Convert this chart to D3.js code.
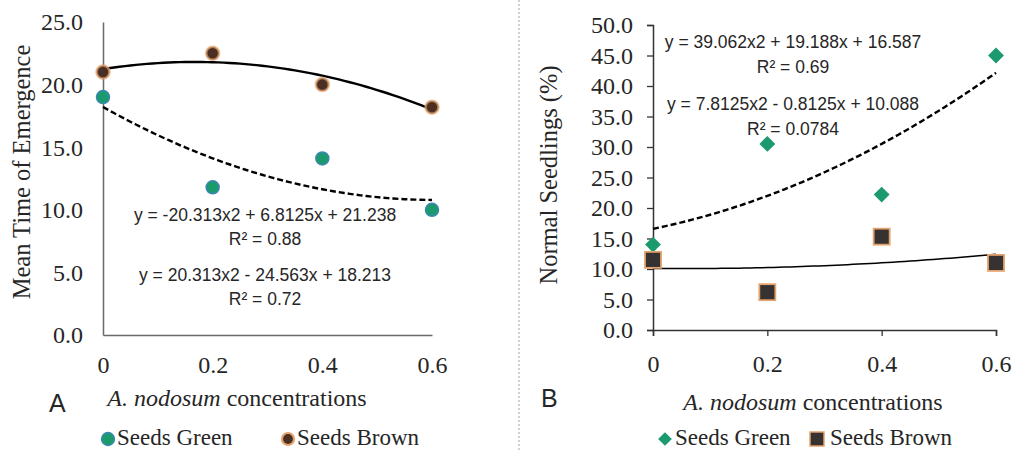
<!DOCTYPE html>
<html>
<head>
<meta charset="utf-8">
<script src="https://cdn.jsdelivr.net/npm/d3@7"></script>
<style>
  body { margin: 0; background: #fff; }
  svg { display: block; }
</style>
</head>
<body>
<svg id="chart" width="1012" height="450"></svg>
<script>
// concentrations
const conc = [0, 0.2, 0.4, 0.6];

// panel A: mean time of emergence
const mteGreen = [19.0, 11.8, 14.1, 10.0];
const mteBrown = [21.0, 22.5, 20.0, 18.2];
// panel B: normal seedlings (%)
const nsGreen = [14.0, 30.5, 22.2, 45.0];
const nsBrown = [11.5, 6.2, 15.3, 11.0];

// trendline coefficients [a, b, c] for a*x^2 + b*x + c
const trendA = { brown: [-20.313, 6.8125, 21.238], green: [20.313, -24.563, 18.213] };
const trendB = { green: [39.062, 19.188, 16.587], brown: [7.8125, -0.8125, 10.088] };

const eqLabelsA = ['y = -20.313x2 + 6.8125x + 21.238', 'R² = 0.88',
                   'y = 20.313x2 - 24.563x + 18.213', 'R² = 0.72'];
const eqLabelsB = ['y = 39.062x2 + 19.188x + 16.587', 'R² = 0.69',
                   'y = 7.8125x2 - 0.8125x + 10.088', 'R² = 0.0784'];

const xTicks = [0, 0.2, 0.4, 0.6];
const yTicksA = [0, 5, 10, 15, 20, 25];
const yTicksB = [0, 5, 10, 15, 20, 25, 30, 35, 40, 45, 50];

const serif = '"Liberation Serif", "Times New Roman", serif';
const sans = '"Liberation Sans", Arial, sans-serif';
const green = '#1b9a6e';
const brownFill = '#4a2f22';
const brownEdge = '#e3a36c';
const ink = '#262626';

const svg = d3.select('#chart');

// divider
svg.append('line')
  .attr('x1', 519).attr('x2', 519).attr('y1', 0).attr('y2', 450)
  .attr('stroke', '#b5b5b5').attr('stroke-width', 1.2)
  .attr('stroke-dasharray', '2,2');

function quad(c) {
  return (x) => c[0] * x * x + c[1] * x + c[2];
}

function trendLine(g, x, y, coef, dashed, width) {
  const f = quad(coef);
  const pts = d3.range(0, 0.6001, 0.01).map((v) => [v, f(v)]);
  g.append('path')
    .datum(pts)
    .attr('fill', 'none')
    .attr('stroke', '#000')
    .attr('stroke-width', width)
    .attr('stroke-dasharray', dashed ? '6,3' : null)
    .attr('d', d3.line().x((d) => x(d[0])).y((d) => y(d[1])));
}

function drawPanel(opt) {
  const x = d3.scaleLinear().domain([0, 0.6]).range([opt.x0, opt.x1]);
  const y = d3.scaleLinear().domain([0, opt.yMax]).range([opt.y0, opt.y1]);
  const g = svg.append('g');

  // axes
  const yAxis = d3.axisLeft(y).tickValues(opt.yTicks)
    .tickSize(opt.ticks ? 6 : 0).tickPadding(opt.yPad)
    .tickFormat(d3.format('.1f'));
  const xAxis = d3.axisBottom(x).tickValues(xTicks)
    .tickSize(opt.ticks ? 6 : 0).tickPadding(0)
    .tickFormat((d) => d === 0 ? '0' : d3.format('.1f')(d));

  const ya = g.append('g').attr('transform', 'translate(' + opt.x0 + ',0)').call(yAxis);
  const xa = g.append('g').attr('transform', 'translate(0,' + opt.y0 + ')').call(xAxis);
  [ya, xa].forEach((a) => {
    a.select('.domain').attr('stroke', opt.axisColor).attr('stroke-width', 1.5);
    a.selectAll('.tick line').attr('stroke', opt.axisColor).attr('stroke-width', 1.3);
    a.selectAll('.tick text').attr('fill', ink)
      .style('font-family', serif).style('font-size', '24px');
  });
  ya.selectAll('.tick text').attr('dy', '0.33em');
  xa.selectAll('.tick text').attr('y', opt.xLabelBase - opt.y0).attr('dy', null);

  // titles
  g.append('text')
    .attr('transform', 'translate(' + opt.yTitleX + ',' + opt.yTitleY + ') rotate(-90)')
    .attr('text-anchor', 'middle')
    .style('font-family', serif).style('font-size', '24.5px').attr('fill', ink)
    .text(opt.yTitle);

  const xt = g.append('text')
    .attr('x', opt.xTitleX).attr('y', opt.xTitleY)
    .attr('text-anchor', 'middle')
    .style('font-family', serif).style('font-size', '24px').attr('fill', ink);
  xt.append('tspan').style('font-style', 'italic').text('A. nodosum');
  xt.append('tspan').text(' concentrations');

  g.append('text')
    .attr('x', opt.letterX).attr('y', opt.letterY)
    .style('font-family', sans).style('font-size', '25px').attr('fill', ink)
    .text(opt.letter);

  // trendlines
  trendLine(g, x, y, opt.trendSolid, false, opt.solidWidth);
  trendLine(g, x, y, opt.trendDashed, true, 2.4);

  // equations
  g.selectAll('.eq')
    .data(opt.eqLabels)
    .join('text')
    .attr('x', opt.eqX)
    .attr('y', (d, i) => opt.eqY[i])
    .attr('text-anchor', 'middle')
    .style('font-family', sans).style('font-size', '17.5px').attr('fill', ink)
    .text((d) => d);

  return { g, x, y };
}

// ---------- Panel A ----------
const pA = drawPanel({
  x0: 103, x1: 432, y0: 335, y1: 22, yMax: 25, yTicks: yTicksA, ticks: false, yPad: 20,
  axisColor: '#6a6a6a', xLabelBase: 373, solidWidth: 2.4,
  yTitle: 'Mean Time of Emergence', yTitleX: 30, yTitleY: 172,
  xTitleX: 237, xTitleY: 406, letter: 'A', letterX: 49, letterY: 412,
  trendSolid: trendA.brown, trendDashed: trendA.green,
  eqLabels: eqLabelsA, eqX: 265, eqY: [221, 245, 281, 305],
});

function circles(p, vals, fill, stroke, glow) {
  p.g.append('g').selectAll('circle')
    .data(conc.map((c, i) => [c, vals[i]]))
    .join('circle')
    .attr('cx', (d) => p.x(d[0]))
    .attr('cy', (d) => p.y(d[1]))
    .attr('r', 6.5)
    .attr('fill', fill)
    .attr('stroke', stroke)
    .attr('stroke-width', glow ? 2.5 : 1.5)
    .attr('stroke-opacity', glow ? 0.7 : 1);
}
circles(pA, mteBrown, brownFill, brownEdge, true);
circles(pA, mteGreen, green, '#3d86b0', false);

// ---------- Panel B ----------
const pB = drawPanel({
  x0: 653, x1: 996, y0: 330, y1: 25, yMax: 50, yTicks: yTicksB, ticks: true, yPad: 14,
  axisColor: '#333', xLabelBase: 372, solidWidth: 1.5,
  yTitle: 'Normal Seedlings (%)', yTitleX: 557, yTitleY: 175,
  xTitleX: 813, xTitleY: 410, letter: 'B', letterX: 541, letterY: 407,
  trendSolid: trendB.brown, trendDashed: trendB.green,
  eqLabels: eqLabelsB, eqX: 793, eqY: [48, 73, 110, 135],
});

pB.g.append('g').selectAll('path')
  .data(conc.map((c, i) => [c, nsGreen[i]]))
  .join('path')
  .attr('transform', (d) => 'translate(' + pB.x(d[0]) + ',' + pB.y(d[1]) + ')')
  .attr('d', d3.symbol(d3.symbolDiamond2, 160)())
  .attr('fill', green);

pB.g.append('g').selectAll('rect')
  .data(conc.map((c, i) => [c, nsBrown[i]]))
  .join('rect')
  .attr('x', (d) => pB.x(d[0]) - 8)
  .attr('y', (d) => pB.y(d[1]) - 8)
  .attr('width', 16).attr('height', 16)
  .attr('fill', '#363232')
  .attr('stroke', brownEdge).attr('stroke-width', 1.8);

// ---------- Legends ----------
function legendText(x, y, t) {
  svg.append('text').attr('x', x).attr('y', y)
    .style('font-family', serif).style('font-size', '23px').attr('fill', ink)
    .text(t);
}
svg.append('circle').attr('cx', 108).attr('cy', 439).attr('r', 6.5)
  .attr('fill', green).attr('stroke', '#3d86b0').attr('stroke-width', 1.3);
legendText(117, 445, 'Seeds Green');
svg.append('circle').attr('cx', 288).attr('cy', 439).attr('r', 6)
  .attr('fill', brownFill).attr('stroke', brownEdge).attr('stroke-width', 2.2);
legendText(297, 445, 'Seeds Brown');

svg.append('path')
  .attr('transform', 'translate(665,439)')
  .attr('d', d3.symbol(d3.symbolDiamond2, 120)())
  .attr('fill', green);
legendText(675, 445, 'Seeds Green');
svg.append('rect').attr('x', 810).attr('y', 432).attr('width', 14).attr('height', 14)
  .attr('fill', '#363232').attr('stroke', brownEdge).attr('stroke-width', 1.5);
legendText(830, 445, 'Seeds Brown');
</script>
</body>
</html>
